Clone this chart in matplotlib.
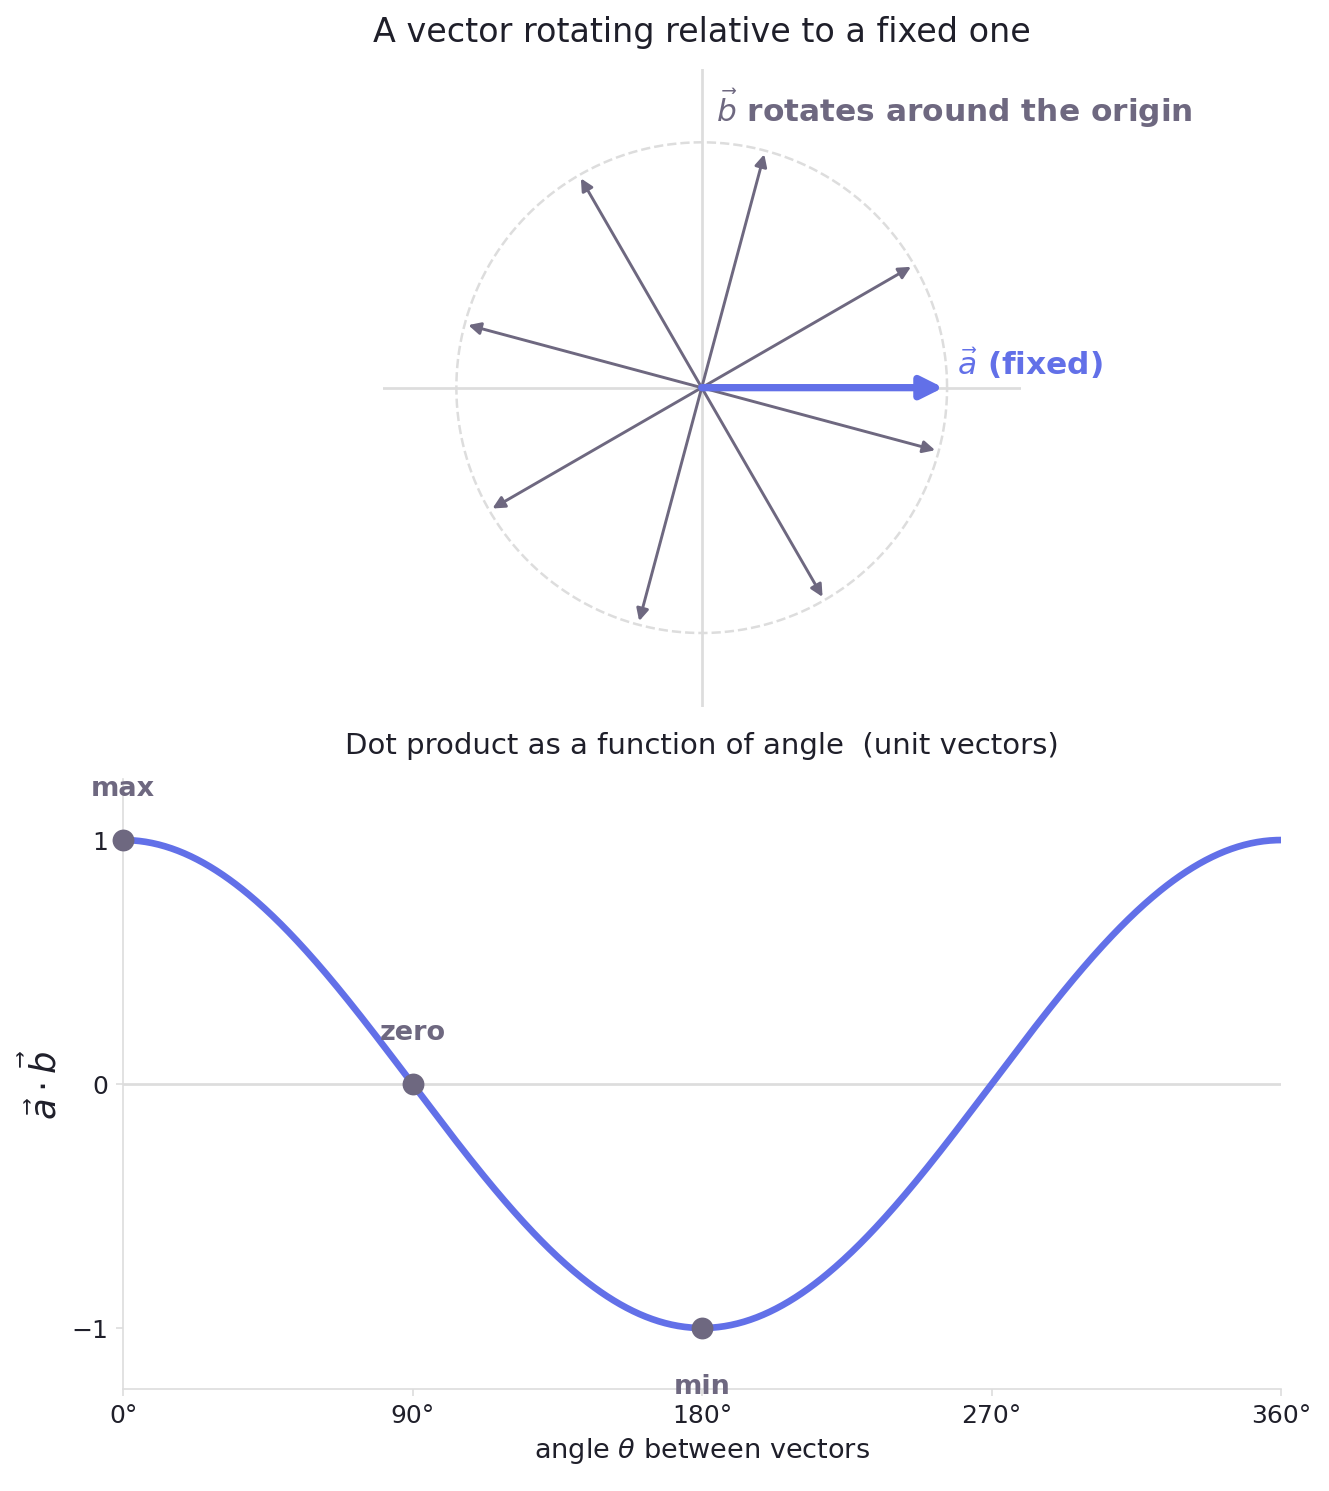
import numpy as np
import matplotlib.pyplot as plt

# data
b_angles_deg = [30, 75, 120, 165, 210, 255, 300, 345]
b_length = 0.985
a_length = 0.985
theta_deg = np.linspace(0, 360, 721)
marker_angles = [0, 90, 180]
marker_labels = ["max", "zero", "min"]
xticks = [0, 90, 180, 270, 360]
yticks = [-1, 0, 1]

blue = "#6270e8"
grey = "#6e6880"
dark = "#1f1f2a"
light = "#dddddd"

fig = plt.figure(figsize=(1329 / 150, 1491 / 150), dpi=150)

ax = fig.add_axes([0.288, 0.526, 0.480, 0.428])
ax.set_xlim(-1.3, 1.3)
ax.set_ylim(-1.3, 1.3)
ax.set_aspect("equal")
ax.axis("off")
ax.axhline(0, color=light, lw=1.3, zorder=0)
ax.axvline(0, color=light, lw=1.3, zorder=0)
t = np.linspace(0, 2 * np.pi, 400)
ax.plot(np.cos(t), np.sin(t), ls="--", color=light, lw=1.2, zorder=0)
for d in b_angles_deg:
    r = np.radians(d)
    ax.annotate("", xy=(b_length * np.cos(r), b_length * np.sin(r)), xytext=(0, 0),
                arrowprops=dict(arrowstyle="-|>", color=grey, lw=1.4, mutation_scale=12,
                                shrinkA=0, shrinkB=0))
ax.annotate("", xy=(a_length, 0), xytext=(0, 0),
            arrowprops=dict(arrowstyle="-|>", color=blue, lw=3.5, mutation_scale=22,
                            shrinkA=0, shrinkB=0))
ax.text(1.04, 0.1, r"$\vec{a}$ (fixed)", color=blue, fontsize=15, fontweight="bold", va="center")
ax.text(0.06, 1.14, r"$\vec{b}$ rotates around the origin", color=grey, fontsize=15,
        fontweight="bold", va="center")
fig.text(0.528, 0.978, "A vector rotating relative to a fixed one", ha="center", va="center",
         fontsize=16, color=dark)

ax2 = fig.add_axes([0.0926, 0.0684, 0.8714, 0.4091])
ax2.plot(theta_deg, np.cos(np.radians(theta_deg)), color=blue, lw=3.2)
ax2.axhline(0, color=light, lw=1.3, zorder=0)
mvals = np.cos(np.radians(marker_angles))
ax2.scatter(marker_angles, mvals, s=90, color=grey, zorder=5, clip_on=False)
offsets = [(0, 0.21), (0, 0.21), (0, -0.24)]
for a, v, lab, (dx, dy) in zip(marker_angles, mvals, marker_labels, offsets):
    ax2.text(a + dx, v + dy, lab, ha="center", va="center", color=grey, fontsize=13,
             fontweight="bold", clip_on=False)
ax2.set_xlim(0, 360)
ax2.set_ylim(-1.25, 1.25)
ax2.set_xticks(xticks)
ax2.set_xticklabels([f"{x}°" for x in xticks])
ax2.set_yticks(yticks)
ax2.set_yticklabels(["\u22121", "0", "1"])
ax2.tick_params(colors=light, labelcolor=dark, labelsize=12)
for s in ["top", "right"]:
    ax2.spines[s].set_visible(False)
for s in ["left", "bottom"]:
    ax2.spines[s].set_color(light)
ax2.set_xlabel(r"angle $\theta$ between vectors", fontsize=13, color=dark)
ax2.set_ylabel(r"$\vec{a}\cdot\vec{b}$", fontsize=17, color=dark)
ax2.set_title("Dot product as a function of angle  (unit vectors)", fontsize=14, color=dark, pad=12)

fig.savefig("out.png", dpi=150)
